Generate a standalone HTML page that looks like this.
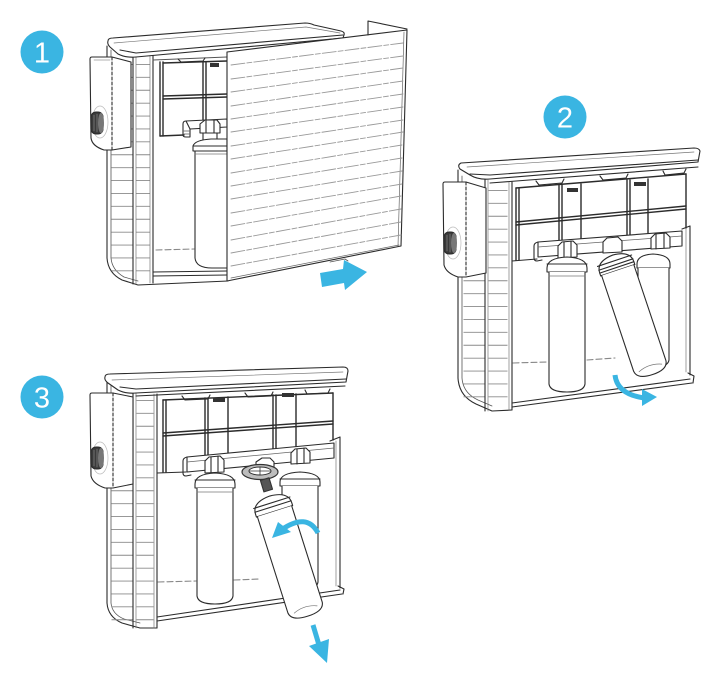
<!DOCTYPE html>
<html><head><meta charset="utf-8"><style>
html,body{margin:0;padding:0;background:#fff;}
svg{display:block;}
</style></head><body>
<svg width="719" height="681" viewBox="0 0 719 681" xmlns="http://www.w3.org/2000/svg">
<rect width="719" height="681" fill="#fff"/>
<g fill="none" stroke="#2b2b2b" stroke-width="1.1" stroke-linejoin="round" stroke-linecap="round">

<!-- ================= UNIT 1 ================= -->
<path d="M107,46 L107,258 Q108,273 122,280 L138,285 L228,281"/>
<path d="M111,50 L111,258 Q112,270 124,277 L138,281" stroke="#555" stroke-width="0.8"/>
<line x1="122" y1="64" x2="122" y2="278" stroke="#8a8a8a" stroke-width="21" stroke-dasharray="0.9 12" stroke-linecap="butt"/>
<line x1="143" y1="64" x2="143" y2="280" stroke="#8a8a8a" stroke-width="14" stroke-dasharray="0.9 12" stroke-linecap="butt"/>
<line x1="133" y1="54" x2="133" y2="284"/>
<line x1="136" y1="54" x2="136" y2="284" stroke="#777" stroke-width="0.7"/>
<line x1="153" y1="55" x2="153" y2="283"/>
<line x1="150" y1="55" x2="150" y2="283" stroke="#777" stroke-width="0.7"/>
<path d="M108,41 Q108,38 113,38 L305,23 Q310,23 314,25 L341,31 Q345,32 344,35 L343,38 L136,57 Q126,58 118,54 L110,47 Q107,44 108,41 Z" fill="#fff"/>
<path d="M114,43 L306,27 L340,33" stroke="#777" stroke-width="0.7"/>
<path d="M120,50 L136,53 L343,35"/>
<path d="M153,60 L227,57" stroke="#555"/>
<path d="M178,59 L181,62 L203,61 L205,58"/>
<g stroke-width="1.4">
<line x1="160" y1="62" x2="160" y2="136"/>
<line x1="163" y1="62" x2="163" y2="136"/>
<line x1="203" y1="62" x2="203" y2="121"/>
<line x1="206" y1="62" x2="206" y2="121"/>
<line x1="163" y1="63" x2="227" y2="61"/>
<line x1="163" y1="96" x2="227" y2="94"/>
<line x1="163" y1="99" x2="227" y2="97"/>
<line x1="160" y1="136" x2="184" y2="135"/>
</g>
<rect x="210" y="63" width="9" height="4" fill="#333" stroke="none"/>
<path d="M186,121 L227,119 L227,127 L190,129 Z" fill="#fff"/>
<path d="M186,121 Q183,121 183,124 L183,135 Q183,137 186,137 L190,137 L190,129"/>
<path d="M184,131 L189,131 M184,134 L189,134" stroke="#555" stroke-width="0.7"/>
<path d="M200,124 L205,120 L217,120 L220,124 L220,133 L200,133 Z" fill="#fff"/>
<line x1="206" y1="120" x2="206" y2="133"/>
<line x1="214" y1="120" x2="214" y2="133"/>
<path d="M203,133 L203,140 M217,133 L217,140"/>
<path d="M193,151 L193,146 Q195,140 211,139 L227,139 L227,151 Z" fill="#fff"/>
<line x1="193" y1="146" x2="227" y2="146"/>
<path d="M195,151 L195,258 Q196,268 212,268 L227,268" fill="#fff"/>
<line x1="195" y1="154" x2="227" y2="154" stroke="#777" stroke-width="0.7"/>
<line x1="156" y1="250" x2="194" y2="249" stroke="#888" stroke-dasharray="6 3"/>
<line x1="153" y1="272" x2="227" y2="271"/>
<line x1="153" y1="276" x2="227" y2="275"/>
<!-- side module -->
<path d="M92,57 L112,57 L131,62 L131,147 L112,150 L104,150 Q92,146 91,138 L90,59 Q90,57 92,57 Z" fill="#fff"/>
<line x1="112" y1="57" x2="112" y2="150" stroke-dasharray="3 2"/>
<line x1="94" y1="60" x2="110" y2="60" stroke="#999" stroke-width="0.7"/>
<ellipse cx="100" cy="122" rx="8" ry="16" stroke="#bbb" stroke-width="0.7"/>
<rect x="91" y="112" width="12" height="22" rx="5" fill="#3a3a3a"/>
<ellipse cx="101" cy="123" rx="3" ry="10" fill="#777" stroke="none"/>
<path d="M94,115 L94,131 M97,114 L97,132" stroke="#999" stroke-width="0.6"/>
<!-- sliding panel -->
<path d="M227,52 L407,30 L401,246 L227,281 Z" fill="#fff"/>
<path d="M368,35 L368,21 L407,29"/>
<path d="M404,32 L398,246" stroke="#666" stroke-width="0.7"/>
<path d="M231,278 L399,245" stroke="#666" stroke-width="0.7"/>
<path d="M330,262 L345,259 L348,261" stroke="#555" stroke-width="0.8"/>
<g stroke="#9a9a9a" stroke-width="0.9" stroke-dasharray="14 2 5 2">
<line x1="231" y1="65" x2="403" y2="43"/>
<line x1="231" y1="79" x2="403" y2="56"/>
<line x1="231" y1="92" x2="403" y2="68"/>
<line x1="231" y1="106" x2="403" y2="81"/>
<line x1="231" y1="119" x2="403" y2="94"/>
<line x1="231" y1="132" x2="403" y2="107"/>
<line x1="231" y1="146" x2="403" y2="120"/>
<line x1="231" y1="159" x2="403" y2="132"/>
<line x1="231" y1="173" x2="402" y2="145"/>
<line x1="231" y1="186" x2="402" y2="158"/>
<line x1="231" y1="199" x2="402" y2="171"/>
<line x1="231" y1="213" x2="402" y2="184"/>
<line x1="231" y1="226" x2="401" y2="196"/>
<line x1="231" y1="240" x2="401" y2="209"/>
<line x1="231" y1="253" x2="401" y2="222"/>
<line x1="231" y1="266" x2="401" y2="235"/>
</g>

<!-- ================= UNIT 2 ================= -->
<path d="M458,170 L458,378 Q459,396 476,404 L492,411 L512,410"/>
<path d="M462,176 L462,378 Q463,393 478,400 L492,406" stroke="#555" stroke-width="0.8"/>
<line x1="474" y1="190" x2="474" y2="404" stroke="#8a8a8a" stroke-width="21" stroke-dasharray="0.9 12" stroke-linecap="butt"/>
<line x1="498" y1="190" x2="498" y2="406" stroke="#8a8a8a" stroke-width="19" stroke-dasharray="0.9 12" stroke-linecap="butt"/>
<line x1="485" y1="178" x2="485" y2="411"/>
<line x1="488" y1="180" x2="488" y2="411" stroke="#777" stroke-width="0.7"/>
<line x1="512" y1="182" x2="512" y2="410"/>
<line x1="509" y1="182" x2="509" y2="410" stroke="#777" stroke-width="0.7"/>
<path d="M461,163 L694,148 Q699,148 700,151 L698,162 L490,179 Q478,180 470,175 L460,169 Q457,165 461,163 Z" fill="#fff"/>
<path d="M467,167 L694,152" stroke="#777" stroke-width="0.7"/>
<path d="M470,174 L490,175 L698,160"/>
<path d="M490,183 L698,167"/>
<path d="M536,181 L539,185 L562,183 L564,179 M600,176 L603,180 L626,178 L628,174 M663,171 L665,175 L684,173 L686,169"/>
<g stroke-width="1.4">
<line x1="516" y1="188" x2="516" y2="260"/>
<line x1="519" y1="188" x2="519" y2="260"/>
<line x1="516" y1="188" x2="686" y2="174"/>
<line x1="559" y1="185" x2="559" y2="250"/>
<line x1="562" y1="185" x2="562" y2="250"/>
<line x1="581" y1="184" x2="581" y2="248"/>
<line x1="627" y1="180" x2="627" y2="244"/>
<line x1="630" y1="180" x2="630" y2="244"/>
<line x1="648" y1="179" x2="648" y2="240"/>
<line x1="686" y1="174" x2="686" y2="228"/>
<line x1="516" y1="222" x2="686" y2="206"/>
<line x1="516" y1="225" x2="686" y2="209"/>
</g>
<rect x="567" y="188" width="11" height="4" fill="#333" stroke="none"/>
<rect x="634" y="182" width="12" height="4" fill="#333" stroke="none"/>
<line x1="512" y1="261" x2="537" y2="259"/>
<path d="M682,229 L690,226 L690,375"/>
<path d="M686,229 L686,372" stroke="#777" stroke-width="0.7"/>
<path d="M538,242 L682,231 L682,246 L538,257 Z" fill="#fff"/>
<path d="M538,247 L682,236" stroke="#666" stroke-width="0.7"/>
<path d="M538,242 Q534,243 534,246 L534,258 Q534,261 537,261 L542,260"/>
<g fill="#fff">
<path d="M558,246 L562,242 L573,241 L577,245 L577,257 L558,258 Z"/>
<path d="M603,242 L607,238 L618,237 L622,241 L622,252 L603,253 Z"/>
<path d="M651,238 L655,234 L666,233 L670,237 L670,248 L651,249 Z"/>
</g>
<path d="M564,242 L564,258 M571,241 L571,257 M656,234 L656,249 M664,233 L664,248"/>
<path d="M637,264 Q637,255 653,254 Q670,255 670,264 L670,268 L637,268 Z" fill="#fff"/>
<path d="M638,268 L638,360 Q639,368 653,368 Q668,367 669,360 L669,268" fill="#fff"/>
<path d="M547,268 Q547,258 567,257 Q587,258 587,268 L587,272 L547,272 Z" fill="#fff"/>
<line x1="547" y1="264" x2="587" y2="264"/>
<path d="M549,272 L549,384 Q550,392 567,392 Q584,392 585,384 L585,272" fill="#fff"/>
<line x1="549" y1="276" x2="585" y2="276" stroke="#777" stroke-width="0.7"/>
<g transform="translate(613,256) rotate(-18.5)">
<path d="M-18,12 Q-18,0 0,-1 Q18,0 18,12 L18,15 L-18,15 Z" fill="#fff"/>
<line x1="-18" y1="5" x2="18" y2="5"/>
<line x1="-18" y1="9" x2="18" y2="9"/>
<line x1="-18" y1="12" x2="18" y2="12"/>
<path d="M-17,15 L-17,116 Q-16,125 0,125 Q16,125 17,116 L17,15" fill="#fff"/>
<path d="M-12,118 Q0,113 12,118" stroke="#777" stroke-width="0.7"/>
</g>
<line x1="513" y1="363" x2="547" y2="362" stroke="#888" stroke-dasharray="6 3"/>
<line x1="587" y1="360" x2="615" y2="358" stroke="#888" stroke-dasharray="6 3"/>
<path d="M512,403 L690,379"/>
<path d="M512,407 L692,383"/>
<path d="M688,373 L694,376 L693,383"/>
<!-- side module 2 -->
<path d="M445,182 L466,182 L486,188 L486,273 L466,277 L458,277 Q446,273 444,265 L443,184 Q443,182 445,182 Z" fill="#fff"/>
<line x1="466" y1="182" x2="466" y2="277" stroke-dasharray="3 2"/>
<ellipse cx="453" cy="243" rx="8" ry="16" stroke="#bbb" stroke-width="0.7"/>
<rect x="444" y="232" width="12" height="22" rx="5" fill="#3a3a3a"/>
<ellipse cx="454" cy="243" rx="3" ry="10" fill="#777" stroke="none"/>
<path d="M447,235 L447,251 M450,234 L450,252" stroke="#999" stroke-width="0.6"/>

<!-- ================= UNIT 3 ================= -->
<path d="M107,380 L107,603 Q108,617 122,623 L140,628 L157,628"/>
<path d="M111,385 L111,603 Q112,614 124,619 L140,623" stroke="#555" stroke-width="0.8"/>
<line x1="122" y1="400" x2="122" y2="622" stroke="#8a8a8a" stroke-width="21" stroke-dasharray="0.9 12" stroke-linecap="butt"/>
<line x1="145" y1="400" x2="145" y2="624" stroke="#8a8a8a" stroke-width="17" stroke-dasharray="0.9 12" stroke-linecap="butt"/>
<line x1="133" y1="392" x2="133" y2="628"/>
<line x1="136" y1="393" x2="136" y2="628" stroke="#777" stroke-width="0.7"/>
<line x1="157" y1="394" x2="157" y2="628"/>
<line x1="154" y1="394" x2="154" y2="628" stroke="#777" stroke-width="0.7"/>
<path d="M105,377 Q105,374 110,374 L343,367 Q348,367 348,371 L346,382 L136,393 Q126,394 118,390 L108,383 Q104,380 105,377 Z" fill="#fff"/>
<path d="M112,380 L343,372" stroke="#777" stroke-width="0.7"/>
<path d="M120,387 L136,389 L346,379"/>
<path d="M136,396 L345,386"/>
<path d="M182,396 L185,400 L208,399 L210,395 M245,393 L248,397 L271,396 L273,392 M305,390 L307,394 L328,393 L330,389"/>
<g stroke-width="1.4">
<line x1="163" y1="400" x2="163" y2="472"/>
<line x1="166" y1="400" x2="166" y2="472"/>
<line x1="163" y1="400" x2="333" y2="393"/>
<line x1="205" y1="398" x2="205" y2="460"/>
<line x1="208" y1="398" x2="208" y2="460"/>
<line x1="228" y1="397" x2="228" y2="458"/>
<line x1="273" y1="395" x2="273" y2="454"/>
<line x1="276" y1="395" x2="276" y2="454"/>
<line x1="296" y1="394" x2="296" y2="452"/>
<line x1="333" y1="393" x2="333" y2="440"/>
<line x1="163" y1="433" x2="333" y2="421"/>
<line x1="163" y1="436" x2="333" y2="424"/>
</g>
<rect x="213" y="398" width="12" height="4" fill="#333" stroke="none"/>
<rect x="282" y="393" width="12" height="4" fill="#333" stroke="none"/>
<line x1="157" y1="473" x2="186" y2="472"/>
<path d="M330,441 L340,437 L340,588"/>
<path d="M336,441 L336,586" stroke="#777" stroke-width="0.7"/>
<path d="M187,457 L334,443 L334,458 L187,472 Z" fill="#fff"/>
<path d="M187,462 L334,448" stroke="#666" stroke-width="0.7"/>
<path d="M187,457 Q183,458 183,461 L183,473 Q183,476 186,476 L191,475"/>
<g fill="#fff">
<path d="M205,461 L209,457 L220,456 L224,460 L224,472 L205,473 Z"/>
<path d="M291,453 L295,449 L306,448 L310,452 L310,463 L291,464 Z"/>
</g>
<path d="M211,457 L211,473 M218,456 L218,472 M297,449 L297,464 M304,448 L304,463"/>
<path d="M280,482 Q280,473 300,472 Q320,473 320,482 L320,486 L280,486 Z" fill="#fff"/>
<line x1="280" y1="479" x2="320" y2="479"/>
<path d="M282,486 L282,582 Q283,590 300,590 Q317,590 318,582 L318,486" fill="#fff"/>
<path d="M195,484 Q195,474 215,473 Q235,474 235,484 L235,488 L195,488 Z" fill="#fff"/>
<line x1="195" y1="480" x2="235" y2="480"/>
<path d="M197,488 L197,596 Q198,604 215,604 Q232,604 233,596 L233,488" fill="#fff"/>
<line x1="197" y1="492" x2="233" y2="492" stroke="#777" stroke-width="0.7"/>
<line x1="158" y1="582" x2="196" y2="581" stroke="#888" stroke-dasharray="6 3"/>
<line x1="234" y1="580" x2="260" y2="579" stroke="#888" stroke-dasharray="6 3"/>
<path d="M157,617 L340,590"/>
<path d="M157,621 L342,594"/>
<path d="M338,586 L344,589 L343,594"/>
<path d="M256,462 L262,458 L270,458 L274,462 L274,468 L256,469 Z" fill="#fff"/>
<ellipse cx="260" cy="472" rx="18" ry="7.5" fill="#bdbdbd" stroke="#333" stroke-width="1.2"/>
<ellipse cx="260" cy="471" rx="11" ry="4" fill="#fff" stroke="#333" stroke-width="1"/>
<path d="M260,467 L260,475 M250,471 L270,471" stroke="#333" stroke-width="0.8"/>
<rect x="262" y="479" width="9" height="12" fill="#555" stroke="#333" transform="rotate(-17 266 485)"/>
<g transform="translate(270,497) rotate(-17.6)">
<path d="M-19,12 Q-19,0 0,-1 Q19,0 19,12 L19,15 L-19,15 Z" fill="#fff"/>
<line x1="-19" y1="6" x2="19" y2="6"/>
<line x1="-19" y1="10" x2="19" y2="10"/>
<path d="M-18,15 L-18,116 Q-17,125 0,125 Q17,125 18,116 L18,15" fill="#fff"/>
<path d="M-12,118 Q0,113 12,118" stroke="#777" stroke-width="0.7"/>
</g>
<!-- side module 3 -->
<path d="M92,393 L113,393 L133,397 L133,484 L113,488 L105,488 Q93,484 91,476 L90,395 Q90,393 92,393 Z" fill="#fff"/>
<line x1="113" y1="393" x2="113" y2="488" stroke-dasharray="3 2"/>
<ellipse cx="100" cy="458" rx="8" ry="16" stroke="#bbb" stroke-width="0.7"/>
<rect x="91" y="447" width="12" height="22" rx="5" fill="#3a3a3a"/>
<ellipse cx="101" cy="458" rx="3" ry="10" fill="#777" stroke="none"/>
<path d="M94,450 L94,466 M97,449 L97,467" stroke="#999" stroke-width="0.6"/>
</g>

<!-- ================= BLUE ARROWS & BADGES ================= -->
<g fill="#3ab5e2" stroke="none">
<path d="M320,273 L343,269 L344,260 L367,272 L345,290 L344,283 L322,287 Z"/>
<polygon points="642,389 657,397 642,406"/>
<polygon points="272,538 278,522 291,532"/>
<polygon points="309,646 329,639 327,663"/>
</g>
<g fill="none" stroke="#3ab5e2" stroke-width="5">
<path d="M615,375 Q617,394 644,398"/>
<path d="M318,533 Q307,512 281,530"/>
<path d="M313,625 L319,645"/>
</g>

<g font-family="Liberation Sans, sans-serif" font-size="29" fill="#fff" text-anchor="middle">
<circle cx="42" cy="52" r="21.5" fill="#3ab5e2"/>
<text x="42" y="62.5">1</text>
<circle cx="565" cy="117" r="21.5" fill="#3ab5e2"/>
<text x="565" y="127.5">2</text>
<circle cx="42" cy="397" r="21.5" fill="#3ab5e2"/>
<text x="42" y="407.5">3</text>
</g>
</svg>
</body></html>
